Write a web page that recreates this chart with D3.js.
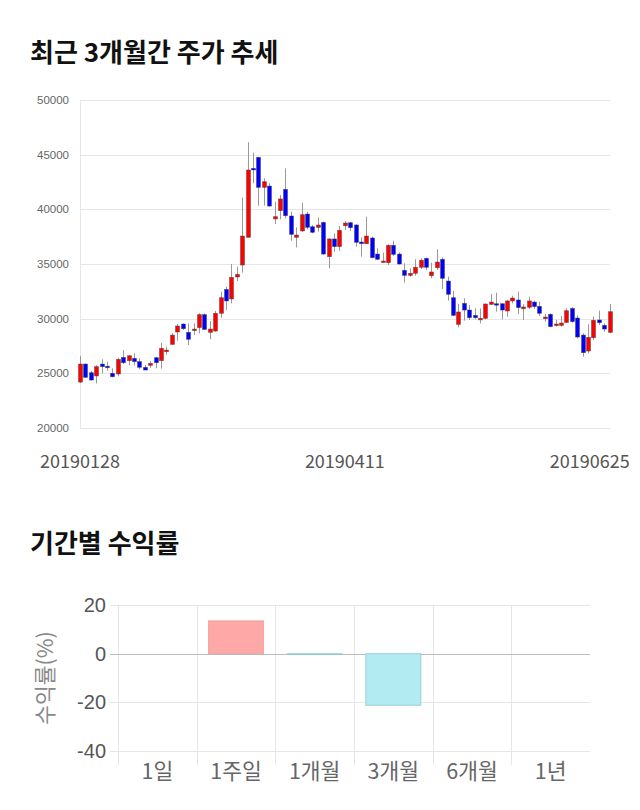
<!DOCTYPE html>
<html><head><meta charset="utf-8">
<script src="https://cdn.jsdelivr.net/npm/d3@7"></script>
<style>
html,body{margin:0;padding:0;background:#fff;}
svg{display:block;}
</style>
</head><body>
<svg id="chart" width="640" height="810"></svg>
<script>
// ---- Data: stock candles (1..99) ----
const opens  = [24200,25850,25060,24760,25850,25650,25000,24940,26460,26160,26370,26070,25550,25730,26430,26160,26980,27650,28780,29510,28750,28960,29180,30370,28750,28870,30490,32680,31800,33810,34910,37440,43750,44760,42010,42130,39120,39880,41830,39390,37440,38020,39570,38410,38350,38810,35670,37290,36590,38500,38780,38570,37010,36860,37380,35910,35150,35120,36710,35910,34420,33960,34150,34700,35520,33930,34660,35430,33440,31920,29480,31400,30790,30300,29910,30030,31310,31370,31370,30700,31620,31710,30910,31040,31520,31130,30000,30400,29390,29390,29660,30940,30060,28500,27040,28260,29880,29390,28750];
const highs  = [26600,25900,25210,25730,26280,26060,25460,26430,27130,26680,26830,26370,25760,26130,26520,27800,27440,28660,29510,29570,29570,29570,30490,30490,29790,30700,32470,32930,35000,34760,41070,46130,45180,44760,42840,42380,40700,41310,43750,39790,38350,40610,39790,38570,39270,38870,37350,37800,38480,38930,38840,38630,37440,39330,37500,36430,36040,36800,37130,36070,35060,34600,35430,35520,35580,35120,36340,35610,33840,32530,31340,31860,31250,30940,30940,31400,32260,32380,31400,31710,32100,32470,31310,32010,31650,31560,30430,30490,29880,30240,30940,31040,30300,28660,29480,30180,30730,29570,31340];
const lows   = [24100,24600,24330,24080,25000,25240,24630,24760,25850,25730,25730,25360,25300,25490,25460,25430,26680,27590,27990,28960,27590,28500,28660,28960,28110,28810,30090,30790,31400,33440,34210,37440,42380,40340,40340,40240,38660,39090,39180,37130,36520,37960,38170,37800,37960,35820,34600,36130,36190,38110,38020,36590,35670,36830,35520,35370,35120,34910,35730,34940,33290,33840,33930,34540,34450,33690,34450,32710,31650,30240,29210,29820,29880,29940,29570,29940,31250,30640,29940,30180,31400,30430,29880,30880,30880,30240,29730,29210,29270,29270,29570,29630,28200,26520,26830,28050,29420,28810,28660];
const closes = [25850,24630,24390,25610,25610,25600,24690,26280,25970,26610,26070,25550,25300,25910,25970,27290,27130,28500,29330,29080,28110,29050,30370,29020,29050,30490,31920,31620,33780,34050,37560,43600,43600,42010,42530,40300,39330,40950,39420,37710,37650,39510,38350,37900,38570,35910,37290,36590,38080,38750,38320,36980,36860,37560,35580,35430,35270,36710,35880,35000,33960,34150,34700,35340,34700,34270,35180,33690,32230,30300,30610,30790,30090,30090,30030,31340,31520,31280,30790,31620,31890,31010,31070,31620,31100,30490,30150,29270,29510,29600,30730,29730,28320,26890,28290,29850,29630,29050,30640];
const priceTicks = [20000,25000,30000,35000,40000,45000,50000];
const dateLabels = ["20190128","20190411","20190625"];

// ---- Data: period returns ----
const periods = ["1일","1주일","1개월","3개월","6개월","1년"];
const returns = [0, 13.5, -0.3, -21.2, 0, 0];
const returnTicks = [-40,-20,0,20];

const svg = d3.select("#chart");
const KR = "'Noto Sans CJK KR','Noto Sans',sans-serif";
const LAT = "'Liberation Sans',Arial,sans-serif";

// Titles
svg.append("text").attr("x",30).attr("y",62).text("최근 3개월간 주가 추세")
  .attr("font-family",KR).attr("font-weight","bold").attr("font-size",26).attr("fill","#111");
svg.append("text").attr("x",30).attr("y",553).text("기간별 수익률")
  .attr("font-family",KR).attr("font-weight","bold").attr("font-size",26).attr("fill","#111");

// ---- Candlestick chart ----
const n = opens.length;
const x = d3.scaleLinear().domain([0, n-1]).range([80, 609.7]);
const y = d3.scaleLinear().domain([20000, 50000]).range([428, 100]);

const g1 = svg.append("g");
g1.selectAll("line.grid").data(priceTicks).join("line")
  .attr("x1",80).attr("x2",610)
  .attr("y1",d=>Math.round(y(d))+0.5).attr("y2",d=>Math.round(y(d))+0.5)
  .attr("stroke","#e6e6e6").attr("stroke-width",1);
g1.append("line").attr("x1",80.5).attr("x2",80.5).attr("y1",100).attr("y2",428)
  .attr("stroke","#e6e6e6");
g1.selectAll("text.pt").data(priceTicks).join("text")
  .attr("x",69).attr("y",d=>y(d)+4).attr("text-anchor","end")
  .attr("font-family",LAT).attr("font-size",11.5).attr("fill","#666").text(d=>d);

const idx = d3.range(n);
g1.selectAll("line.wick").data(idx).join("line")
  .attr("x1",i=>Math.round(x(i))+0.5).attr("x2",i=>Math.round(x(i))+0.5)
  .attr("y1",i=>y(highs[i])).attr("y2",i=>y(lows[i]))
  .attr("stroke","#999").attr("stroke-width",1);
g1.selectAll("rect.body").data(idx).join("rect")
  .attr("x",i=>Math.round(x(i))-1.5).attr("width",4)
  .attr("y",i=>y(Math.max(opens[i],closes[i])))
  .attr("height",i=>Math.max(1.5, Math.abs(y(opens[i])-y(closes[i]))))
  .attr("fill",i=>closes[i]>=opens[i]?"#ff0000":"#0000ff")
  .attr("stroke","rgba(60,60,60,0.6)").attr("stroke-width",0.7);

// date labels
const datePos = [0, Math.floor((n-1)/2), n-1];
g1.selectAll("text.dl").data(dateLabels).join("text")
  .attr("x",(d,k)=>x(datePos[k]))
  .attr("y",468)
  .attr("text-anchor",(d,k)=>k===2?"end":"middle")
  .attr("dx",(d,k)=>k===2?20:0)
  .attr("font-family",KR).attr("font-size",18).attr("fill","#555").text(d=>d);

// ---- Returns bar chart ----
const xb = d3.scaleBand().domain(periods).range([118, 590]).paddingInner(0.3).paddingOuter(0.15);
const yb = d3.scaleLinear().domain([-40, 20]).range([751, 605]);
const g2 = svg.append("g");
const step = xb.step();
g2.selectAll("line.vg").data(periods).join("line")
  .attr("x1",d=>Math.round(xb(d)-xb.paddingInner()*step/2)+0.5)
  .attr("x2",d=>Math.round(xb(d)-xb.paddingInner()*step/2)+0.5)
  .attr("y1",605).attr("y2",765).attr("stroke","#e6e6e6");
g2.selectAll("line.hg").data(returnTicks).join("line")
  .attr("x1",110).attr("x2",590)
  .attr("y1",d=>Math.round(yb(d))+0.5).attr("y2",d=>Math.round(yb(d))+0.5)
  .attr("stroke",d=>d===0?"#bbbbbb":"#e6e6e6");
g2.selectAll("text.rt").data(returnTicks).join("text")
  .attr("x",106).attr("y",d=>yb(d)+7).attr("text-anchor","end")
  .attr("font-family",LAT).attr("font-size",20).attr("fill","#555").text(d=>d);
g2.selectAll("rect.bar").data(periods.map((p,i)=>({p,v:returns[i]})).filter(d=>d.v!==0)).join("rect")
  .attr("x",d=>xb(d.p)).attr("width",xb.bandwidth())
  .attr("y",d=>yb(Math.max(0,d.v))).attr("height",d=>Math.abs(yb(d.v)-yb(0)))
  .attr("fill",d=>d.v>0?"#ffa8a8":"#b2ebf2")
  .attr("stroke",d=>d.v>0?"rgba(230,140,140,0.6)":"rgba(140,200,210,0.8)").attr("stroke-width",1);
g2.selectAll("text.cat").data(periods).join("text")
  .attr("x",d=>xb(d)+xb.bandwidth()/2).attr("y",779).attr("text-anchor","middle")
  .attr("font-family",KR).attr("font-size",21.5).attr("fill","#666").text(d=>d);
svg.append("text").attr("transform","translate(53,678) rotate(-90)")
  .attr("text-anchor","middle").attr("font-family",KR).attr("font-size",21.5).attr("fill","#888")
  .text("수익률(%)");
</script>
</body></html>
